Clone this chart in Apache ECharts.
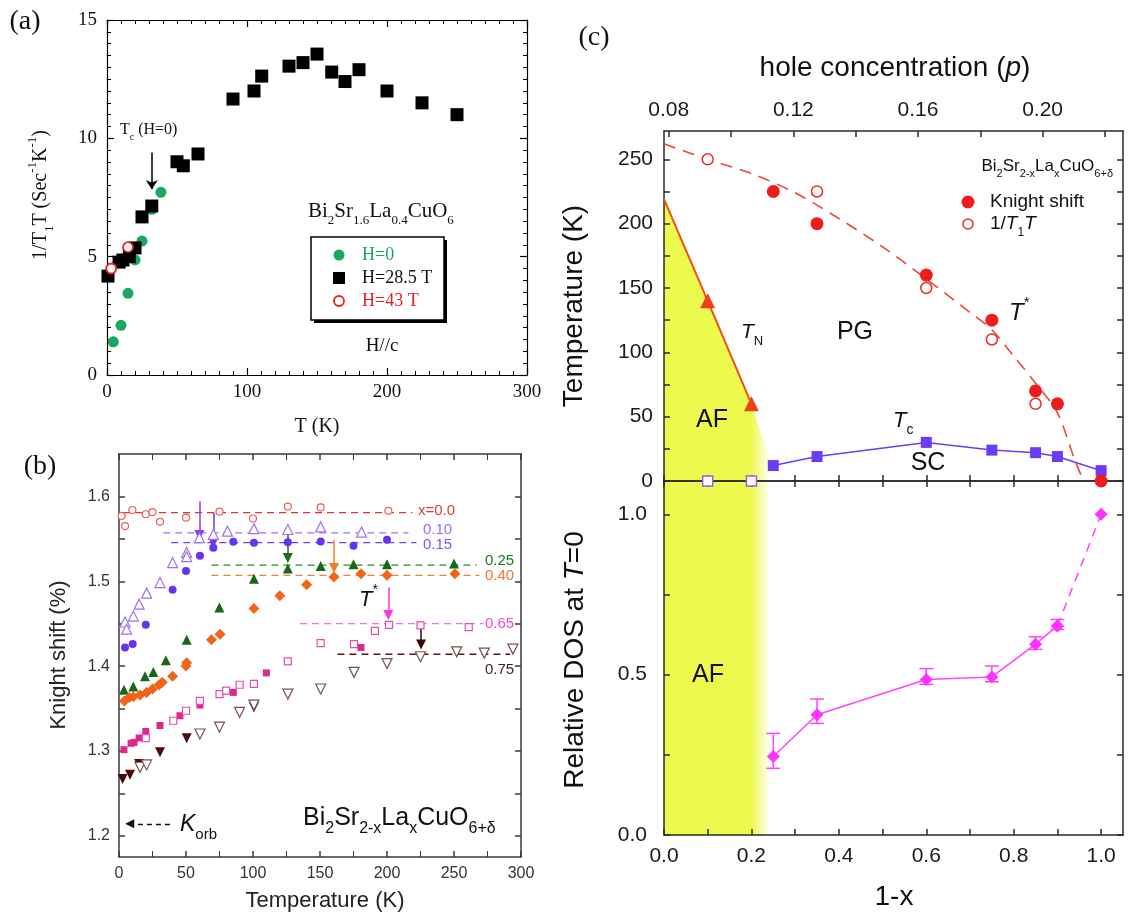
<!DOCTYPE html>
<html>
<head>
<meta charset="utf-8">
<script src="https://cdn.jsdelivr.net/npm/echarts@6/dist/echarts.min.js"></script>
<style>
html, body { margin: 0; padding: 0; background: #fff; }
#chart { width: 1129px; height: 916px; }
</style>
</head>
<body>
<div id="chart"></div>
<script>
const SERIF = '"Liberation Serif", "Times New Roman", serif';
const SANS = '"Liberation Sans", Arial, Helvetica, sans-serif';

// ---------- (a) 1/T1T versus T for Bi2Sr1.6La0.4CuO6 ----------
const aT_H0   = [4.5, 10, 15, 20, 25, 32, 38.5];
const aR_H0   = [1.4, 2.1, 3.45, 4.86, 5.66, 7.0, 7.72];
const aT_H285 = [0.7, 8.6, 11.4, 16, 20, 25, 32, 50, 54.5, 65, 90, 105, 110.5, 130, 140, 150, 160.5, 170, 180, 200, 225, 250];
const aR_H285 = [4.18, 4.77, 4.86, 5.0, 5.37, 6.68, 7.14, 9.01, 8.84, 9.34, 11.66, 12.0, 12.63, 13.05, 13.2, 13.56, 12.8, 12.4, 12.9, 12.0, 11.5, 11.0];
const aT_H43  = [3, 15];
const aR_H43  = [4.5, 5.4];
const aTcArrow = [32, 9.4, 7.85];          // T, arrow start, arrow end

// ---------- (b) Knight shift versus temperature ----------
const bT_x00 = [2, 4.5, 10, 20, 25, 30.6, 50, 75, 100, 126, 150.5, 201];
const bK_x00 = [1.577, 1.565, 1.584, 1.579, 1.5815, 1.570, 1.575, 1.582, 1.574, 1.588, 1.587, 1.583];
const bT_x10 = [4.5, 5.7, 10.7, 15, 20.6, 30.6, 40, 50.5, 50.5, 60, 70.4, 81, 100.7, 126, 150.5, 181];
const bK_x10 = [1.452, 1.4435, 1.459, 1.473, 1.486, 1.4985, 1.522, 1.534, 1.529, 1.5514, 1.5553, 1.559, 1.562, 1.561, 1.564, 1.558];
const bT_x15 = [4.5, 10.2, 20, 40, 50, 60.4, 70.4, 85.3, 100.7, 126, 150.5, 175, 200];
const bK_x15 = [1.422, 1.426, 1.4486, 1.49, 1.512, 1.53, 1.5396, 1.5467, 1.5455, 1.546, 1.547, 1.542, 1.549];
const bT_x25 = [3.7, 10.7, 19.4, 25.6, 35, 50.5, 74.9, 100.7, 126, 150.5, 175, 200, 250];
const bK_x25 = [1.372, 1.376, 1.388, 1.393, 1.407, 1.431, 1.469, 1.503, 1.515, 1.518, 1.52, 1.52, 1.521];
const bT_x40 = [4, 7.7, 10.7, 15.7, 20.6, 25, 30, 32.3, 40, 50, 50.5, 69, 75.4, 100.7, 120, 140, 160.4, 180.6, 200, 250.7];
const bK_x40 = [1.359, 1.363, 1.364, 1.366, 1.369, 1.373, 1.378, 1.381, 1.388, 1.400, 1.404, 1.431, 1.4376, 1.468, 1.483, 1.496, 1.505, 1.509, 1.507, 1.509];
const bT_x65f = [3.7, 9, 11.2, 15, 20, 30.6, 45.5, 60.4, 85.3, 110, 180.6];
const bK_x65f = [1.3015, 1.309, 1.31, 1.3153, 1.323, 1.33, 1.3415, 1.3541, 1.369, 1.392, 1.422];
const bT_x65o = [20, 40.5, 50, 60.4, 75, 80, 90, 100.7, 126, 150.5, 175.4, 191, 201.5, 225, 261];
const bK_x65o = [1.315, 1.3356, 1.3474, 1.359, 1.367, 1.371, 1.378, 1.379, 1.4055, 1.427, 1.426, 1.4415, 1.4486, 1.448, 1.446];
const bT_x75f = [2.7, 8.2, 15, 30.6, 50.5, 100.7];
const bK_x75f = [1.267, 1.2718, 1.2847, 1.2984, 1.315, 1.3514];
const bT_x75o = [15.7, 20.6, 60.4, 75, 90, 100.7, 126, 150.5, 175.4, 200, 225, 252, 272.6, 294];
const bK_x75o = [1.2808, 1.2835, 1.32, 1.328, 1.3455, 1.354, 1.367, 1.373, 1.3926, 1.403, 1.411, 1.4168, 1.4153, 1.42];

// high-temperature plateau of each sample
const bGuideName  = ['x=0.0', '0.10', '0.15', '0.25', '0.40', '0.65', '0.75'];
const bGuideLevel = [1.581, 1.557, 1.5455, 1.519, 1.507, 1.450, 1.414];
const bGuideFrom  = [3, 33, 39, 69, 69, 135, 163];
const bGuideTo    = [219, 216, 222, 267, 269, 272, 292];

// T* markers: temperature, arrow start, arrow end
const bStarT     = [60, 70.4, 126, 160.4, 201, 225.4];
const bStarFrom  = [1.5945, 1.5808, 1.5553, 1.5486, 1.4926, 1.4521];
const bStarTo    = [1.5545, 1.5451, 1.5275, 1.5155, 1.4603, 1.4255];
const bKorb      = [1.2141, 38, 8];        // level, arrow start T, arrow end T

const bTickY  = [1.2, 1.25, 1.3, 1.35, 1.4, 1.45, 1.5, 1.55, 1.6];
const bLabelY = [1.2, 1.3, 1.4, 1.5, 1.6];

// ---------- (c) phase diagram and relative DOS ----------
const afX = [0, 0.2, 0.243, 0.243];          // AF region boundary
const afT = [219, 60, 15, 0];
const tnX = [0, 0.1, 0.2];
const tnT = [219, 140, 60];
const tStarX = [0, 0.1, 0.2, 0.3, 0.4, 0.5, 0.6, 0.7, 0.75, 0.8, 0.85, 0.9, 0.94, 0.96];
const tStarT = [262, 250, 239, 224, 204, 182, 157, 131, 117.5, 97, 76, 53, 16, 0];
const tcX = [0.25, 0.35, 0.6, 0.75, 0.85, 0.9, 1.0];
const tcT = [12, 19, 30, 24, 22, 19, 8];
const tcZeroX = [0.1, 0.2];
const tcZeroT = [0, 0];
const ksX = [0.25, 0.35, 0.6, 0.75, 0.85, 0.9, 1.0];
const ksT = [225, 200, 160, 125, 70, 60, 0];
const t1X = [0.1, 0.35, 0.6, 0.75, 0.85];
const t1T = [250, 225, 150, 110, 60];
const dosX  = [0.25, 0.35, 0.6, 0.75, 0.85, 0.9, 1.0];
const dosV  = [0.245, 0.375, 0.485, 0.493, 0.595, 0.652, 1.0];
const dosLo = [0.208, 0.348, 0.47, 0.478, 0.579, 0.641];
const dosHi = [0.317, 0.424, 0.519, 0.527, 0.618, 0.672];
const dosMax = 1.104;

const cTickX  = [0, 0.1, 0.2, 0.3, 0.4, 0.5, 0.6, 0.7, 0.8, 0.9, 1.0];
const cLabelX = [0, 0.2, 0.4, 0.6, 0.8, 1.0];
const cTickT  = [0, 25, 50, 75, 100, 125, 150, 175, 200, 225, 250];
const cLabelT = [0, 50, 100, 150, 200, 250];
const cTickD  = [0, 0.25, 0.5, 0.75, 1.0];
const cLabelD = [0, 0.5, 1.0];
const pTick   = [0.08, 0.10, 0.12, 0.14, 0.16, 0.18, 0.20, 0.22];
const pLabel  = [0.08, 0.12, 0.16, 0.20];

// ---------- helpers ----------
const zip = (xs, ys) => xs.map((x, i) => [x, ys[i]]);

function mkAxis(o) {
  const color = o.color || '#000';
  const lw = o.lw || 1.2;
  const tick = { show: true, inside: true, length: o.tickLen || 6, lineStyle: { color: color, width: lw } };
  if (o.tickValues) tick.customValues = o.tickValues;
  const lab = o.label ? {
    show: true, fontFamily: o.font, fontSize: o.fontSize, color: o.labelColor || '#111', margin: o.margin
  } : { show: false };
  if (o.label && o.fmt) lab.formatter = o.fmt;
  if (o.label && o.labelValues) lab.customValues = o.labelValues;
  const ax = {
    type: 'value', gridIndex: o.grid, position: o.pos, min: o.min, max: o.max, z: 3,
    axisLine: { show: true, onZero: false, lineStyle: { color: color, width: lw } },
    axisTick: tick,
    minorTick: o.minor ? { show: true, splitNumber: o.minor, length: o.minorLen || 4, lineStyle: { color: color, width: 1 } } : { show: false },
    axisLabel: lab,
    splitLine: { show: false }, minorSplitLine: { show: false }
  };
  if (o.interval) ax.interval = o.interval;
  return ax;
}

function scatter(xi, yi, xs, ys, sym, size, fill, stroke, lw, extra) {
  return Object.assign({
    type: 'scatter', xAxisIndex: xi, yAxisIndex: yi, data: zip(xs, ys),
    symbol: sym, symbolSize: size, z: 6, silent: true,
    itemStyle: { color: fill, borderColor: stroke || fill, borderWidth: lw || 0, opacity: 1 }
  }, extra || {});
}

function line(xi, yi, data, color, width, type, extra) {
  return Object.assign({
    type: 'line', xAxisIndex: xi, yAxisIndex: yi, data: data,
    symbol: 'none', showSymbol: false, silent: true, z: 4,
    lineStyle: { color: color, width: width, type: type || 'solid' }
  }, extra || {});
}

function arrow(x, y1, y2, color, size, sym) {
  return {
    silent: true, animation: false, symbol: ['none', sym || 'triangle'], symbolSize: size,
    label: { show: false }, emphasis: { disabled: true },
    lineStyle: { color: color, width: 1.5, type: 'solid' },
    data: [[{ coord: [x, y1] }, { coord: [x, y2] }]]
  };
}

function rich(size, family, color) {
  const sub = Math.round(size * 0.64);
  const L = Math.round(size * 1.5);
  const hs = Math.round(size * 0.8);
  return {
    m: { fontSize: size, fontFamily: family, fill: color, lineHeight: L },
    i: { fontSize: size, fontFamily: family, fontStyle: 'italic', fill: color, lineHeight: L },
    s: { fontSize: sub, fontFamily: family, fill: color, lineHeight: hs, verticalAlign: 'bottom' },
    p: { fontSize: sub, fontFamily: family, fill: color, lineHeight: hs, verticalAlign: 'top' }
  };
}

function text(x, y, str, o) {
  o = o || {};
  const family = o.font || SANS, size = o.size || 16, color = o.color || '#111';
  const align = o.align || 'center';
  return {
    type: 'text', x: x, y: y, rotation: o.rot || 0, z: 100, silent: true,
    style: {
      text: str, fill: color, fontSize: size, fontFamily: family,
      fontStyle: o.italic ? 'italic' : 'normal',
      align: align, verticalAlign: 'middle', textAlign: align, textVerticalAlign: 'middle',
      rich: rich(size, family, color)
    }
  };
}

const yellow = '#eef94d';
const afFill = () => new echarts.graphic.LinearGradient(0, 0, 1, 0, [
  { offset: 0, color: yellow }, { offset: 0.82, color: yellow }, { offset: 1, color: '#ffffff' }
]);

// ---------- axes ----------
const aAx = { color: '#000', lw: 1.2, tickLen: 7, minorLen: 4, font: SERIF, fontSize: 19, labelColor: '#111' };
const bAx = { color: '#3a3a3a', lw: 1.5, tickLen: 6, minorLen: 6, font: SANS, fontSize: 16, labelColor: '#333' };
const cAx = { color: '#2a2a2a', lw: 1.5, tickLen: 6, font: SANS, fontSize: 21, labelColor: '#1a1a1a' };

const xAxis = [
  mkAxis(Object.assign({}, aAx, { grid: 0, pos: 'bottom', min: 0, max: 300, interval: 100, minor: 10, label: true, margin: 8 })),
  mkAxis(Object.assign({}, aAx, { grid: 0, pos: 'top', min: 0, max: 300, interval: 100, minor: 10 })),
  mkAxis(Object.assign({}, bAx, { grid: 1, pos: 'bottom', min: 0, max: 300, interval: 50, minor: 2, label: true, margin: 9 })),
  mkAxis(Object.assign({}, bAx, { grid: 1, pos: 'top', min: 0, max: 300, interval: 50, minor: 2 })),
  mkAxis(Object.assign({}, cAx, { grid: 2, pos: 'bottom', min: 0, max: 1.05, tickValues: cTickX })),
  mkAxis(Object.assign({}, cAx, { grid: 2, pos: 'top', min: 0.0785, max: 0.2258, tickValues: pTick,
    label: true, labelValues: pLabel, fmt: v => v.toFixed(2), margin: 10 })),
  mkAxis(Object.assign({}, cAx, { grid: 3, pos: 'bottom', min: 0, max: 1.05, tickValues: cTickX,
    label: true, labelValues: cLabelX, fmt: v => v.toFixed(1), margin: 11 })),
  mkAxis(Object.assign({}, cAx, { grid: 3, pos: 'top', min: 0, max: 1.05, tickValues: cTickX }))
];

const yAxis = [
  mkAxis(Object.assign({}, aAx, { grid: 0, pos: 'left', min: 0, max: 15, interval: 5, minor: 10, label: true, margin: 10 })),
  mkAxis(Object.assign({}, aAx, { grid: 0, pos: 'right', min: 0, max: 15, interval: 5, minor: 10 })),
  mkAxis(Object.assign({}, bAx, { grid: 1, pos: 'left', min: 1.175, max: 1.65, tickValues: bTickY,
    label: true, labelValues: bLabelY, fmt: v => v.toFixed(1), margin: 9 })),
  mkAxis(Object.assign({}, bAx, { grid: 1, pos: 'right', min: 1.175, max: 1.65, tickValues: bTickY })),
  mkAxis(Object.assign({}, cAx, { grid: 2, pos: 'left', min: 0, max: 272, tickValues: cTickT,
    label: true, labelValues: cLabelT, fmt: v => String(Math.round(v)), margin: 11 })),
  mkAxis(Object.assign({}, cAx, { grid: 2, pos: 'right', min: 0, max: 272, tickValues: cTickT })),
  mkAxis(Object.assign({}, cAx, { grid: 3, pos: 'left', min: 0, max: dosMax, tickValues: cTickD,
    label: true, labelValues: cLabelD, fmt: v => v.toFixed(1), margin: 17 })),
  mkAxis(Object.assign({}, cAx, { grid: 3, pos: 'right', min: 0, max: dosMax, tickValues: cTickD }))
];

// ---------- series ----------
const series = [];

// (a)
series.push(scatter(0, 0, aT_H0, aR_H0, 'circle', 11, '#1aa860'));
series.push(scatter(0, 0, aT_H285, aR_H285, 'rect', 13, '#000', null, 0, {
  markLine: arrow(aTcArrow[0], aTcArrow[1], aTcArrow[2], '#000', 9, 'arrow')
}));
series.push(scatter(0, 0, aT_H43, aR_H43, 'circle', 10, '#fff', '#e82020', 1.8));

// (b) plateau guides
const guideColor = ['#d9372f', '#a070f0', '#6a44ee', '#2a8a2a', '#f08040', '#ff66ee', '#5a1414'];
bGuideLevel.forEach((lv, i) => {
  series.push(line(2, 2, [[bGuideFrom[i], lv], [bGuideTo[i], lv]], guideColor[i], 1.3, [7, 5]));
});

// (b) data
series.push(scatter(2, 2, bT_x00, bK_x00, 'circle', 7, '#fff', '#e8605a', 1.2));
series.push(scatter(2, 2, bT_x10, bK_x10, 'triangle', 10, '#fff', '#a070f0', 1.2, {
  markLine: arrow(bStarT[0], bStarFrom[0], bStarTo[0], '#8a3cf0', 10)
}));
series.push(scatter(2, 2, bT_x15, bK_x15, 'circle', 8, '#6633ee', null, 0, {
  markLine: arrow(bStarT[1], bStarFrom[1], bStarTo[1], '#7a30f0', 10)
}));
series.push(scatter(2, 2, bT_x25, bK_x25, 'triangle', 10, '#176817', null, 0, {
  markLine: arrow(bStarT[2], bStarFrom[2], bStarTo[2], '#1d6b1d', 10)
}));
series.push(scatter(2, 2, bT_x40, bK_x40, 'diamond', 11, '#f26418', null, 0, {
  markLine: arrow(bStarT[3], bStarFrom[3], bStarTo[3], '#f08030', 10)
}));
series.push(scatter(2, 2, bT_x65f, bK_x65f, 'rect', 7, '#e0288c'));
series.push(scatter(2, 2, bT_x65o, bK_x65o, 'rect', 7, '#fff', '#ec4aa8', 1.2, {
  markLine: arrow(bStarT[4], bStarFrom[4], bStarTo[4], '#ff33e8', 10)
}));
series.push(scatter(2, 2, bT_x75f, bK_x75f, 'triangle', 10, '#4a0a0a', null, 0, { symbolRotate: 180 }));
series.push(scatter(2, 2, bT_x75o, bK_x75o, 'triangle', 10, '#fff', '#7a4f4f', 1.2, {
  symbolRotate: 180,
  markLine: arrow(bStarT[5], bStarFrom[5], bStarTo[5], '#3a0505', 10)
}));
series.push(line(2, 2, [[bKorb[1], bKorb[0]], [bKorb[2], bKorb[0]]], '#111', 1.4, [5, 4], {
  lineStyle: { width: 0, opacity: 0 },
  markLine: {
    silent: true, animation: false, symbol: ['none', 'triangle'], symbolSize: 9,
    label: { show: false }, emphasis: { disabled: true },
    lineStyle: { color: '#111', width: 1.4, type: [5, 4] },
    data: [[{ coord: [bKorb[1], bKorb[0]] }, { coord: [bKorb[2], bKorb[0]] }]]
  }
}));

// (c) upper: phase diagram
series.push(line(4, 4, zip(afX, afT), yellow, 0, 'solid', {
  z: 1, lineStyle: { width: 0, opacity: 0 }, areaStyle: { color: afFill(), opacity: 1 }
}));
series.push(line(4, 4, zip(tnX, tnT), '#f0501e', 2, 'solid', { z: 5 }));
series.push(scatter(4, 4, tnX.slice(1), tnT.slice(1), 'triangle', 15, '#f0401a'));
series.push(line(4, 4, zip(tStarX, tStarT), '#f0443c', 1.6, [12, 8], { smooth: 0.3, z: 4 }));
series.push(line(4, 4, zip(tcX, tcT), '#6b3cf5', 1.5, 'solid', {
  symbol: 'rect', symbolSize: 11, showSymbol: true, showAllSymbol: true, clip: false, z: 6,
  itemStyle: { color: '#6b3cf5' }
}));
series.push(scatter(4, 4, tcZeroX, tcZeroT, 'rect', 10, '#fff', '#8a66f0', 1.5, { clip: false }));
series.push(scatter(4, 4, ksX, ksT, 'circle', 13, '#ee1d1d', null, 0, { clip: false, z: 7 }));
series.push(scatter(4, 4, t1X, t1T, 'circle', 11, '#fff', '#ee2a2a', 1.5, { z: 7 }));

// (c) lower: relative DOS at T=0
series.push(line(6, 6, [[afX[0], dosMax], [afX[afX.length - 1], dosMax]], yellow, 0, 'solid', {
  z: 1, lineStyle: { width: 0, opacity: 0 }, areaStyle: { color: afFill(), opacity: 1 }
}));
series.push({
  type: 'custom', xAxisIndex: 6, yAxisIndex: 6, silent: true, z: 5,
  data: dosLo.map((lo, i) => [dosX[i], lo, dosHi[i]]),
  encode: { x: 0, y: [1, 2] },
  renderItem: function (params, api) {
    const x = api.value(0);
    const pLo = api.coord([x, api.value(1)]);
    const pHi = api.coord([x, api.value(2)]);
    const w = 7;
    const st = { stroke: '#ff44ff', lineWidth: 1.5 };
    return {
      type: 'group', children: [
        { type: 'line', shape: { x1: pLo[0], y1: pLo[1], x2: pHi[0], y2: pHi[1] }, style: st },
        { type: 'line', shape: { x1: pLo[0] - w, y1: pLo[1], x2: pLo[0] + w, y2: pLo[1] }, style: st },
        { type: 'line', shape: { x1: pHi[0] - w, y1: pHi[1], x2: pHi[0] + w, y2: pHi[1] }, style: st }
      ]
    };
  }
});
series.push(line(6, 6, zip(dosX.slice(0, 6), dosV.slice(0, 6)), '#ff44ff', 1.5, 'solid', {
  symbol: 'diamond', symbolSize: 13, showSymbol: true, showAllSymbol: true, z: 6,
  itemStyle: { color: '#ff33ff' }
}));
series.push(line(6, 6, zip(dosX.slice(5), dosV.slice(5)), '#ff44ff', 1.5, [9, 7], {
  symbol: 'diamond', symbolSize: 13, showSymbol: true, showAllSymbol: true, z: 6, clip: false,
  itemStyle: { color: '#ff33ff' }
}));

// ---------- texts ----------
const elements = [
  // (a)
  text(25, 22, '(a)', { font: SERIF, size: 28 }),
  text(41, 195, '{m|1/T}{s|1}{m|T (Sec}{p|-1}{m|K}{p|-1}{m|)}', { font: SERIF, size: 20, rot: Math.PI / 2 }),
  text(317, 427, 'T (K)', { font: SERIF, size: 20 }),
  text(120, 130, '{m|T}{s|c}{m| (H=0)}', { font: SERIF, size: 16, align: 'left' }),
  text(308, 211, '{m|Bi}{s|2}{m|Sr}{s|1.6}{m|La}{s|0.4}{m|CuO}{s|6}', { font: SERIF, size: 21, align: 'left' }),
  text(382, 346, 'H//c', { font: SERIF, size: 19 }),
  { type: 'rect', z: 50, silent: true, shape: { x: 314, y: 240, width: 133, height: 83 }, style: { fill: '#000' } },
  { type: 'rect', z: 51, silent: true, shape: { x: 311, y: 237, width: 133, height: 83 }, style: { fill: '#fff', stroke: '#000', lineWidth: 1.5 } },
  { type: 'circle', z: 52, silent: true, shape: { cx: 339, cy: 255, r: 5.5 }, style: { fill: '#1aa860' } },
  { type: 'rect', z: 52, silent: true, shape: { x: 333, y: 272, width: 12, height: 12 }, style: { fill: '#000' } },
  { type: 'circle', z: 52, silent: true, shape: { cx: 339, cy: 301, r: 5 }, style: { fill: '#fff', stroke: '#e82020', lineWidth: 1.8 } },
  text(362, 255, 'H=0', { font: SERIF, size: 18, align: 'left', color: '#1aa860' }),
  text(362, 278, 'H=28.5 T', { font: SERIF, size: 18, align: 'left', color: '#111' }),
  text(362, 301, 'H=43 T', { font: SERIF, size: 18, align: 'left', color: '#e82020' }),

  // (b)
  text(40, 467, '(b)', { font: SERIF, size: 28 }),
  text(59, 655, 'Knight shift (%)', { size: 22, rot: Math.PI / 2, color: '#222' }),
  text(325, 901, 'Temperature (K)', { size: 22, color: '#222' }),
  text(418, 511, bGuideName[0], { size: 15, align: 'left', color: '#e03a30' }),
  text(423, 530, bGuideName[1], { size: 15, align: 'left', color: '#9b6cf5' }),
  text(423, 545, bGuideName[2], { size: 15, align: 'left', color: '#7f55f0' }),
  text(485, 561, bGuideName[3], { size: 15, align: 'left', color: '#1d7a1d' }),
  text(485, 576, bGuideName[4], { size: 15, align: 'left', color: '#f07830' }),
  text(485, 624, bGuideName[5], { size: 15, align: 'left', color: '#ff44dd' }),
  text(485, 670, bGuideName[6], { size: 15, align: 'left', color: '#4a1a1a' }),
  text(359, 600, '{i|T}{p|*}', { size: 22, align: 'left' }),
  text(180, 825, '{i|K}{s|orb}', { size: 23, align: 'left' }),
  text(303, 818, '{m|Bi}{s|2}{m|Sr}{s|2-x}{m|La}{s|x}{m|CuO}{s|6+δ}', { size: 25, align: 'left' }),

  // (c)
  text(594, 38, '(c)', { font: SERIF, size: 28 }),
  text(895, 68, '{m|hole concentration (}{i|p}{m|)}', { size: 28 }),
  text(574, 306, 'Temperature (K)', { size: 28, rot: Math.PI / 2 }),
  text(575, 660, '{m|Relative DOS at }{i|T}{m|=0}', { size: 28, rot: Math.PI / 2 }),
  text(894, 897, '1-x', { size: 28 }),
  text(712, 420, 'AF', { size: 25 }),
  text(708, 675, 'AF', { size: 25 }),
  text(741, 332, '{i|T}{s|N}', { size: 21, align: 'left' }),
  text(855, 332, 'PG', { size: 25 }),
  text(1009, 313, '{i|T}{p|*}', { size: 24, align: 'left' }),
  text(893, 421, '{i|T}{s|c}', { size: 22, align: 'left' }),
  text(928, 463, 'SC', { size: 25 }),
  text(1113, 166, '{m|Bi}{s|2}{m|Sr}{s|2-x}{m|La}{s|x}{m|CuO}{s|6+δ}', { size: 17, align: 'right' }),
  { type: 'circle', z: 100, silent: true, shape: { cx: 968, cy: 202, r: 6.5 }, style: { fill: '#ee1d1d' } },
  { type: 'circle', z: 100, silent: true, shape: { cx: 968, cy: 224, r: 5 }, style: { fill: '#fff', stroke: '#ee2a2a', lineWidth: 1.5 } },
  text(990, 202, 'Knight shift', { size: 19, align: 'left' }),
  text(990, 224, '{m|1/}{i|T}{s|1}{i|T}', { size: 19, align: 'left' })
];

const option = {
  animation: false,
  backgroundColor: '#fff',
  textStyle: { fontFamily: SANS },
  grid: [
    { left: 107, top: 20, width: 420, height: 355, outerBoundsMode: 'none' },
    { left: 119, top: 454, width: 402, height: 403, outerBoundsMode: 'none' },
    { left: 664, top: 131, width: 459, height: 350, outerBoundsMode: 'none' },
    { left: 664, top: 481, width: 459, height: 354, outerBoundsMode: 'none' }
  ],
  xAxis: xAxis,
  yAxis: yAxis,
  series: series,
  graphic: { elements: elements }
};

const chart = echarts.init(document.getElementById('chart'), null, { renderer: 'canvas' });
chart.setOption(option);
</script>
</body>
</html>
